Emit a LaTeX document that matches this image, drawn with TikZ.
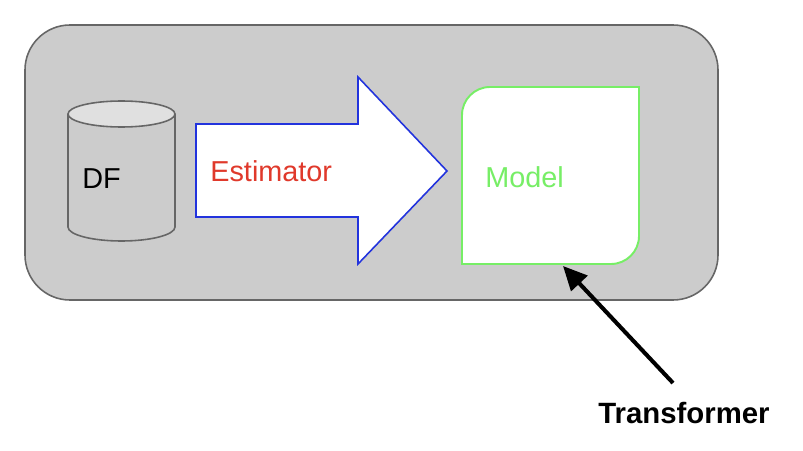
\documentclass[tikz,border=0pt]{standalone}
\usepackage{fontspec}
\setmainfont{Liberation Sans}
\usetikzlibrary{arrows.meta}
\definecolor{panelgrey}{HTML}{CCCCCC}
\definecolor{edgegrey}{HTML}{666666}
\definecolor{lidgrey}{HTML}{E0E0E0}
\definecolor{estblue}{HTML}{2233DD}
\definecolor{estred}{HTML}{E0392B}
\definecolor{modelgreen}{HTML}{77EE66}
\tikzset{>=latex}
\tikzstyle{lab} = [inner sep = 0, anchor = base west, font = \fontsize{16.4}{16.4}\selectfont]
\tikzstyle{edge} = [draw = edgegrey, line width = 0.9pt]

\begin{document}
\begin{tikzpicture}
\useasboundingbox (0, 0) rectangle (16.06, 9);
\fill [white] (0, 0) rectangle (16.06, 9);
\draw [edge, fill = panelgrey, rounded corners = 0.9cm] (0.5, 3) rectangle (14.36, 8.5);
\draw [edge] (1.36, 6.72) -- (1.36, 4.46) arc [start angle = 180, end angle = 360, x radius = 1.07, y radius = 0.28] -- (3.5, 6.72);
\draw [edge, fill = lidgrey] (2.43, 6.72) ellipse [x radius = 1.07, y radius = 0.26];
\draw [draw = estblue, fill = white, line width = 0.9pt] (3.92, 6.52) -- (7.16, 6.52) -- (7.16, 7.46) -- (8.94, 5.58) -- (7.16, 3.72) -- (7.16, 4.66) -- (3.92, 4.66) -- cycle;
\draw [draw = modelgreen, fill = white, line width = 1.1pt] (9.8, 7.26) -- (12.78, 7.26) -- (12.78, 4.28) arc [start angle = 0, end angle = -90, radius = 0.56] -- (9.24, 3.72) -- (9.24, 6.7) arc [start angle = 180, end angle = 90, radius = 0.56] -- cycle;
\node [lab] (DF) at (1.64, 5.24) {DF};
\node [lab, text = estred] (Est) at (4.2, 5.38) {Estimator};
\node [lab, text = modelgreen] (Model) at (9.7, 5.26) {Model};
\node [lab, font = \fontsize{16.7}{16.7}\selectfont] (Trans) at (11.96, 0.54) {\textbf{Transformer}};
\coordinate (TransTop) at (13.46, 1.34);
\coordinate (ModelEdge) at (11.26, 3.68);
\draw [-{Triangle[length = 0.48cm, width = 0.44cm]}, line width = 2.3pt] (TransTop) to (ModelEdge);
\end{tikzpicture}
\end{document}
